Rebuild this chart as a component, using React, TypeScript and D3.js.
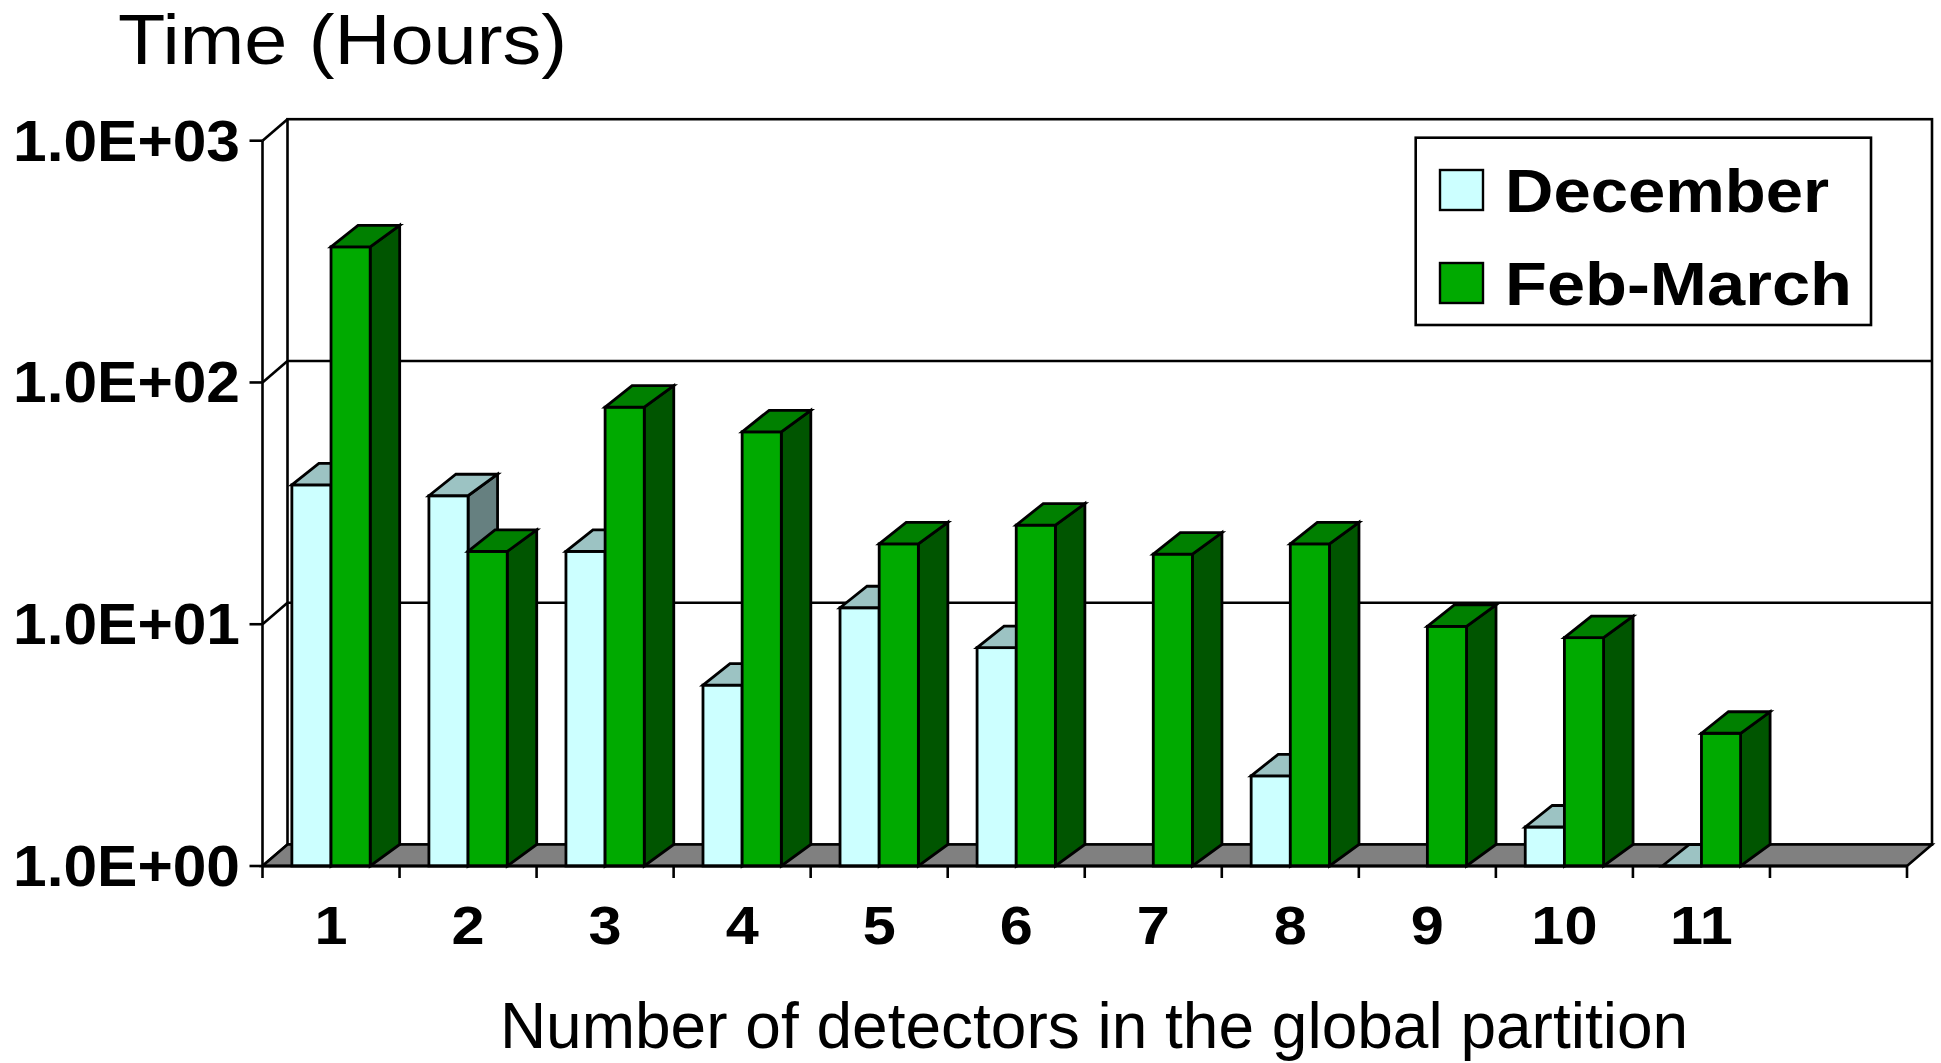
import React from "react";
import * as d3 from "d3";

// Hours per run, by number of detectors in the global partition
const categories = ["1", "2", "3", "4", "5", "6", "7", "8", "9", "10", "11", ""];
const december: (number | null)[] = [37.7, 34, 20, 5.6, 11.7, 8.0, null, 2.36, null, 1.45, 1.0, null];
const febMarch: (number | null)[] = [364, 20, 79, 62.5, 21.5, 25.7, 19.5, 21.5, 9.8, 8.8, 3.54, null];
const seriesNames = ["December", "Feb-March"];
const yTicks = [1, 10, 100, 1000];
const yTickLabels = ["1.0E+00", "1.0E+01", "1.0E+02", "1.0E+03"];

const W = 1941;
const H = 1063;
const FONT = "'Liberation Sans', Arial, Helvetica, sans-serif";

// plot frame (front plane)
const X0 = 262.5;
const X1 = 1907;
const YBASE = 866;
const YTOP = 140.7;
// depth of walls and of bars
const WALL_DX = 25;
const WALL_DY = 21.5;
const BAR_DXL = 27;
const BAR_DXR = 29.5;
const BAR_DY = 21.5;

const seriesStyle = [
  { front: "#CCFFFF", top: "#9CC3C3", side: "#668080" },
  { front: "#00AA00", top: "#008000", side: "#005500" },
];

const x = d3
  .scaleBand<number>()
  .domain(d3.range(categories.length))
  .range([X0, X1])
  .paddingInner(3 / 7)
  .paddingOuter(3 / 14);

const xSeries = d3
  .scaleBand<number>()
  .domain([0, 1])
  .range([0, x.bandwidth()]);

const y = d3.scaleLog().domain([1, 1000]).range([YBASE, YTOP]);

const step = x.step();
const slotEdges = d3.range(categories.length + 1).map((i) => X0 + i * step);

function Bar({ left, right, value, s }: { left: number; right: number; value: number; s: number }) {
  const st = seriesStyle[s];
  const yt = y(value);
  const h = YBASE - yt;
  const pts = (arr: number[][]) => arr.map((p) => p.join(",")).join(" ");
  return (
    <g stroke="#000" strokeWidth={2.8} strokeLinejoin="miter">
      <polygon
        points={pts([
          [right, yt],
          [right + BAR_DXR, yt - BAR_DY],
          [right + BAR_DXR, YBASE - BAR_DY],
          [right, YBASE],
        ])}
        fill={st.side}
      />
      {h > 0 && <rect x={left} y={yt} width={right - left} height={h} fill={st.front} />}
      <polygon
        points={pts([
          [left, yt],
          [left + BAR_DXL, yt - BAR_DY],
          [right + BAR_DXR, yt - BAR_DY],
          [right, yt],
        ])}
        fill={st.top}
      />
    </g>
  );
}

export default function App() {
  const series = [december, febMarch];
  const backL = X0 + WALL_DX;
  const backR = X1 + WALL_DX;
  const backTop = YTOP - WALL_DY;
  const backBase = YBASE - WALL_DY;

  return (
    <svg
      width={W}
      height={H}
      viewBox={`0 0 ${W} ${H}`}
      style={{ position: "absolute", left: 0, top: 0, display: "block", background: "#fff" }}
      fontFamily={FONT}
    >
      <rect width={W} height={H} fill="#fff" />

      {/* axis title */}
      <text x={118} y={64} fontSize={71} textLength={449} lengthAdjust="spacingAndGlyphs" fill="#000">
        Time (Hours)
      </text>

      {/* back wall */}
      <rect x={backL} y={backTop} width={backR - backL} height={backBase - backTop} fill="#fff" stroke="#000" strokeWidth={2.6} />

      {/* gridlines on back wall and left wall */}
      {yTicks.map((t) => (
        <g key={"g" + t} stroke="#000" strokeWidth={2.6} fill="none">
          {t > 1 && t < 1000 && <line x1={backL} x2={backR} y1={y(t) - WALL_DY} y2={y(t) - WALL_DY} />}
          <line x1={X0} y1={y(t)} x2={backL} y2={y(t) - WALL_DY} />
        </g>
      ))}

      {/* floor */}
      <polygon
        points={`${X0},${YBASE} ${X1},${YBASE} ${backR},${backBase} ${backL},${backBase}`}
        fill="#808080"
        stroke="#000"
        strokeWidth={2.6}
      />

      {/* left axis */}
      <line x1={X0} x2={X0} y1={YTOP} y2={YBASE} stroke="#000" strokeWidth={2.6} />
      {yTicks.map((t, i) => (
        <g key={"t" + t}>
          <line x1={X0 - 13} x2={X0} y1={y(t)} y2={y(t)} stroke="#000" strokeWidth={2.6} />
          <text
            x={240}
            y={y(t) + 20}
            fontSize={58}
            fontWeight="bold"
            textAnchor="end"
            textLength={227}
            lengthAdjust="spacingAndGlyphs"
            fill="#000"
          >
            {yTickLabels[i]}
          </text>
        </g>
      ))}

      {/* bars */}
      {categories.map((c, i) => (
        <g key={"c" + i}>
          {series.map((vals, s) => {
            const v = vals[i];
            if (v == null) return null;
            const left = (x(i) as number) + (xSeries(s) as number);
            const right = left + xSeries.bandwidth();
            return <Bar key={s} left={left} right={right} value={v} s={s} />;
          })}
        </g>
      ))}

      {/* category axis */}
      <line x1={X0} x2={X1} y1={YBASE} y2={YBASE} stroke="#000" strokeWidth={3.2} />
      {slotEdges.map((ex, i) => (
        <line key={"xt" + i} x1={ex} x2={ex} y1={YBASE} y2={YBASE + 12} stroke="#000" strokeWidth={2.6} />
      ))}
      {categories.map((c, i) => {
        const cx = (x(i) as number) + x.bandwidth() / 2;
        return (
          <text
            key={"xl" + i}
            transform={`translate(${cx},944) scale(1.1,1)`}
            fontSize={54}
            fontWeight="bold"
            textAnchor="middle"
            fill="#000"
          >
            {c}
          </text>
        );
      })}

      <text x={1094} y={1048} fontSize={64} textAnchor="middle" fill="#000">
        Number of detectors in the global partition
      </text>

      {/* legend */}
      <rect x={1415.7} y={137.7} width={455.3} height={187.3} fill="#fff" stroke="#000" strokeWidth={2.6} />
      {seriesNames.map((n, i) => {
        const top = i === 0 ? 170 : 263;
        return (
          <g key={n}>
            <rect x={1440} y={top} width={43} height={40} fill={seriesStyle[i].front} stroke="#000" strokeWidth={2.4} />
            <text
              x={1505}
              y={top + 42}
              fontSize={62}
              fontWeight="bold"
              textLength={i === 0 ? 324 : 347}
              lengthAdjust="spacingAndGlyphs"
              fill="#000"
            >
              {n}
            </text>
          </g>
        );
      })}
    </svg>
  );
}
